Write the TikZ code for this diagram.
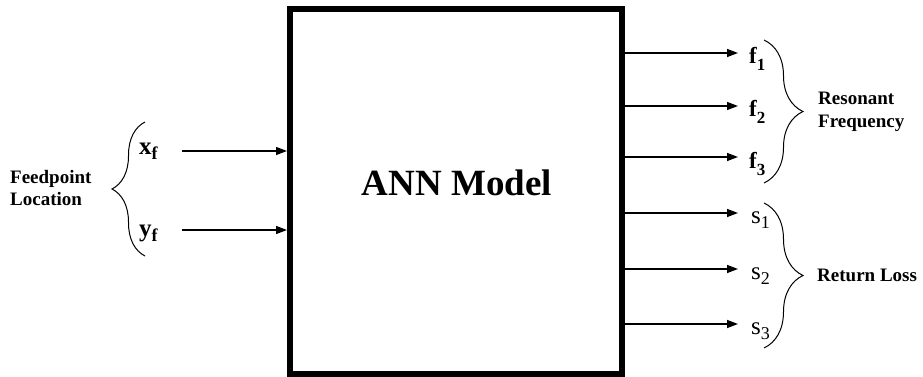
\documentclass[tikz,border=0pt]{standalone}
\usepackage{fontspec}
\setmainfont{Liberation Serif}
\usetikzlibrary{arrows.meta,decorations.pathreplacing}
\newcommand{\sublbl}[4]{#1\raisebox{-#4}{\fontsize{#3}{#3}\selectfont #2}}
\begin{document}
\begin{tikzpicture}[x=1pt,y=-1pt,
  conn/.style={line width=1.4pt,-{Triangle[length=11pt,width=8pt]}},
  brc/.style={decorate,decoration={brace,amplitude=#1},line width=1pt},
  grp/.style={font=\fontsize{19}{23}\selectfont\bfseries,align=left,inner sep=0pt,anchor=west},
  lbl/.style={inner sep=0pt,anchor=base west},
  flbl/.style={lbl,font=\fontsize{23}{23}\selectfont\bfseries},
  slbl/.style={lbl,font=\fontsize{25}{25}\selectfont},
  xlbl/.style={lbl,font=\fontsize{25}{25}\selectfont\bfseries}
]
\useasboundingbox (0,0) rectangle (923,377);
% main block
\node[draw,line width=6pt,minimum width=332pt,minimum height=365pt,inner sep=0pt] (box) at (456,191.5) {};
\node[inner sep=0pt,anchor=base,font=\fontsize{37}{37}\selectfont\bfseries] (title) at (457,195) {ANN Model};
% inputs
\node[xlbl] (xf) at (139,154) {\sublbl{x}{f}{18}{5pt}};
\node[xlbl] (yf) at (139,236) {\sublbl{y}{f}{18}{5pt}};
\coordinate (xin) at (182,151);
\coordinate (yin) at (182,230);
\draw[conn] (xin) -- (xin -| box.west);
\draw[conn] (yin) -- (yin -| box.west);
\coordinate (lbb) at (145,256);
\coordinate (lbt) at (145,122);
\draw[brc=33pt] (lbb) -- (lbt);
\node[grp] (feed) at (10,188) {Feedpoint\\Location};
% outputs: resonant frequency
\coordinate (f1e) at (738,53);
\coordinate (f2e) at (738,106);
\coordinate (f3e) at (738,157);
\draw[conn] (f1e -| box.east) -- (f1e);
\draw[conn] (f2e -| box.east) -- (f2e);
\draw[conn] (f3e -| box.east) -- (f3e);
\node[flbl] (f1) at (749,64) {\sublbl{f}{1}{17}{7pt}};
\node[flbl] (f2) at (749,117) {\sublbl{f}{2}{17}{7pt}};
\node[flbl] (f3) at (749,168) {\sublbl{f}{3}{17}{7pt}};
\coordinate (rft) at (764,40);
\coordinate (rfb) at (764,183);
\draw[brc=39pt] (rft) -- (rfb);
\node[grp] (res) at (818,112) {Resonant\\Frequency};
% outputs: return loss
\coordinate (s1e) at (738,213);
\coordinate (s2e) at (738,269);
\coordinate (s3e) at (738,324);
\draw[conn] (s1e -| box.east) -- (s1e);
\draw[conn] (s2e -| box.east) -- (s2e);
\draw[conn] (s3e -| box.east) -- (s3e);
\node[slbl] (s1) at (751,223) {\sublbl{s}{1}{18}{5pt}};
\node[slbl] (s2) at (751,279) {\sublbl{s}{2}{18}{5pt}};
\node[slbl] (s3) at (751,334) {\sublbl{s}{3}{18}{5pt}};
\coordinate (rlt) at (764,203);
\coordinate (rlb) at (764,348);
\draw[brc=39pt] (rlt) -- (rlb);
\node[grp] (ret) at (817,275) {Return Loss};
\end{tikzpicture}
\end{document}
